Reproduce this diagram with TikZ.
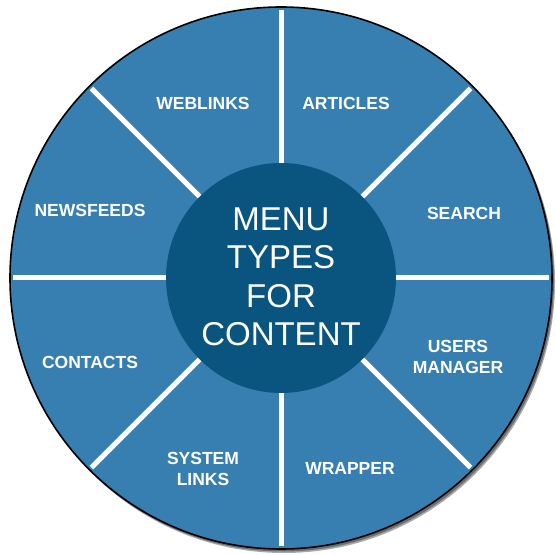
\documentclass[tikz,border=0pt]{standalone}
\usepackage{fontspec}
\setmainfont{Liberation Sans}
\definecolor{outerblue}{RGB}{55,127,176}
\definecolor{innerblue}{RGB}{10,84,128}
\definecolor{shadowgray}{RGB}{110,110,110}
\tikzset{
  lbl/.style={text=white, font=\fontsize{17.5}{21.5}\selectfont\bfseries, align=center, inner sep=0pt},
  ctr/.style={text=white, font=\fontsize{33}{38.5}\selectfont, align=center, inner sep=0pt},
  divider/.style={draw=white, line width=5pt},
}
\begin{document}
\begin{tikzpicture}[x=1pt,y=1pt]
\useasboundingbox (0,0) rectangle (556,554);
\coordinate (c) at (281,276);
% shadow
\fill[shadowgray!60] ([shift={(3,-4)}]c) circle (271);
\fill[shadowgray] ([shift={(2,-2.5)}]c) circle (271);
% outer disc
\fill[outerblue] (c) circle (271);
\draw[black, line width=1.6pt] (c) circle (271);
% dividers
\foreach \a in {0,45,...,315} {
  \draw[divider] ([shift={(\a:100)}]c) -- ([shift={(\a:268)}]c);
}
% inner disc
\node[circle, fill=innerblue, minimum size=230, inner sep=0pt] (hub) at (c) {};
\node[ctr] (title) at (281,277) {MENU\\TYPES\\FOR\\CONTENT};
% labels
\node[lbl] (weblinks) at (203,451) {WEBLINKS};
\node[lbl] (articles) at (346,451) {ARTICLES};
\node[lbl] (newsfeeds) at (90,344) {NEWSFEEDS};
\node[lbl] (search) at (464,341) {SEARCH};
\node[lbl] (contacts) at (90,192) {CONTACTS};
\node[lbl] (users) at (458,197) {USERS\\MANAGER};
\node[lbl] (system) at (203,85) {SYSTEM\\LINKS};
\node[lbl] (wrapper) at (350,86) {WRAPPER};
\end{tikzpicture}
\end{document}
